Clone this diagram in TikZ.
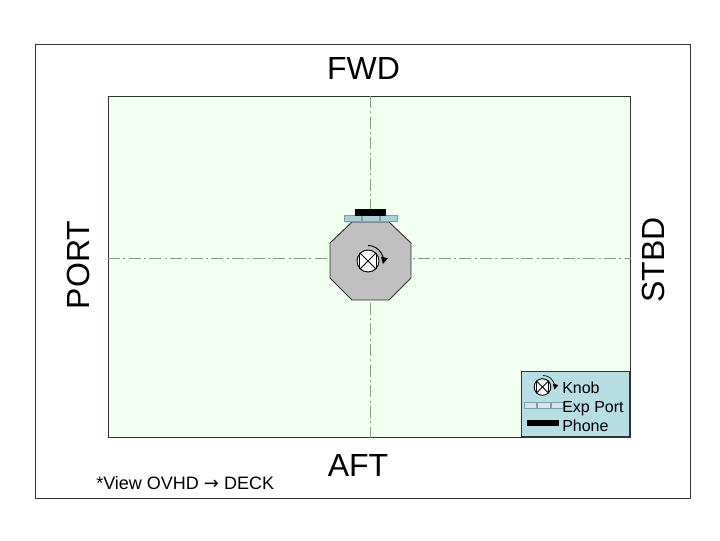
\documentclass[tikz,border=0pt]{standalone}
\usepackage{fontspec}
\setmainfont{Liberation Sans}
\newfontfamily\arrowfont{DejaVu Sans}
\usetikzlibrary{arrows.meta}
\definecolor{deckgreen}{RGB}{240,255,240}
\definecolor{legendblue}{RGB}{182,222,228}
\definecolor{portblue}{RGB}{170,208,214}
\definecolor{hullgray}{RGB}{192,192,192}
\definecolor{edgegray}{RGB}{50,50,50}
\definecolor{clinegray}{RGB}{135,155,135}
\tikzset{
  label32/.style={inner sep=0pt, font=\fontsize{24}{28}\selectfont},
  label16/.style={inner sep=0pt, anchor=base west, font=\fontsize{12}{14}\selectfont},
  centerline/.style={draw=clinegray, line width=0.7pt, dash pattern=on 9pt off 2.5pt on 1.5pt off 2.5pt},
  portcell/.style={rectangle, draw=gray!70!cyan, fill=portblue, line width=0.7pt, minimum height=4.5pt, minimum width=13pt, inner sep=0pt},
  legendcell/.style={rectangle, draw=gray!60!cyan, fill=portblue!50, line width=0.7pt, minimum height=4pt, minimum width=9.3pt, inner sep=0pt},
  knobdial/.style={circle, draw, fill=white, line width=0.7pt, inner sep=0pt},
}
\begin{document}
\begin{tikzpicture}[x=0.75pt, y=-0.75pt]
\useasboundingbox (0,0) rectangle (720,540);

\draw (35,44) node (frame) [anchor=north west, rectangle, draw=edgegray, line width=0.7pt, minimum width=491.25pt, minimum height=340.5pt] {};
\draw (108,96) node (deck) [anchor=north west, rectangle, draw=edgegray, fill=deckgreen, line width=0.7pt, minimum width=391.5pt, minimum height=255.75pt] {};

\path (deck.north) -- +(1,0) coordinate (cltop);
\path (deck.south) -- +(1,0) coordinate (clbot);
\path (deck.west) -- +(0,-8.5) coordinate (clleft);
\path (deck.east) -- +(0,-8.5) coordinate (clright);
\draw [centerline] (cltop) -- (clbot);
\draw [centerline] (clleft) -- (clright);

\draw (363.5,68) node (fwd) [label32] {FWD};
\draw (358,465.5) node (aft) [label32] {AFT};
\draw (78,265) node (port) [label32, rotate=90] {PORT};
\draw (653,260) node (stbd) [label32, rotate=90] {STBD};

\draw (96,483.5) node (note) [inner sep=0pt, anchor=west, font=\fontsize{13.5}{15}\selectfont] {*View OVHD {\arrowfont →} DECK};

% hull
\draw [edgegray, fill=hullgray, line width=0.7pt] (352,222) -- (389,222) -- (411,243) -- (411,278) -- (389,300) -- (352,300) -- (330,278) -- (330,243) -- cycle;

% expansion port and phone
\draw (371,218) node (p2) [portcell] {};
\draw (p2.west) node (p1) [portcell, anchor=east] {};
\draw (p2.east) node (p3) [portcell, anchor=west] {};
\draw (370.5,212.5) node (phone) [rectangle, fill=black, minimum width=23pt, minimum height=5pt, inner sep=0pt] {};

% knob
\draw (368,261) node (knob) [knobdial, minimum size=16.5pt] {};
\draw [line width=0.7pt] (knob.north west) -- (knob.south east);
\draw [line width=0.7pt] (knob.north east) -- (knob.south west);
\draw [line width=0.7pt] (knob.north west) -- (knob.south west);
\draw [line width=0.7pt] (knob.north east) -- (knob.south east);
\draw [line width=0.7pt, -{Triangle[length=5pt,width=5pt]}] (368,245.5) arc[start angle=90, end angle=-12, radius=11.5pt];

% legend
\draw (630,437) node (legend) [anchor=south east, rectangle, draw=edgegray, fill=legendblue, line width=0.7pt, minimum width=81pt, minimum height=48.75pt] {};
\draw (542.5,387) node (lknob) [knobdial, minimum size=12.5pt] {};
\draw [line width=0.6pt] (lknob.north west) -- (lknob.south east);
\draw [line width=0.6pt] (lknob.north east) -- (lknob.south west);
\draw [line width=0.6pt] (lknob.north west) -- (lknob.south west);
\draw [line width=0.6pt] (lknob.north east) -- (lknob.south east);
\draw [line width=0.5pt, -{Triangle[length=4pt,width=4pt]}] (543,375.5) arc[start angle=90, end angle=-12, radius=8.8pt];
\draw (530.5,405.5) node (lc1) [legendcell] {};
\draw (lc1.east) node (lc2) [legendcell, anchor=west] {};
\draw (lc2.east) node (lc3) [legendcell, anchor=west] {};
\draw (543,423) node (lphone) [rectangle, fill=black, minimum width=24pt, minimum height=5pt, inner sep=0pt] {};
\draw (562,393) node (tknob) [label16] {Knob};
\draw (562,412) node (texp) [label16] {Exp Port};
\draw (562,431) node (tphone) [label16] {Phone};

\end{tikzpicture}
\end{document}
